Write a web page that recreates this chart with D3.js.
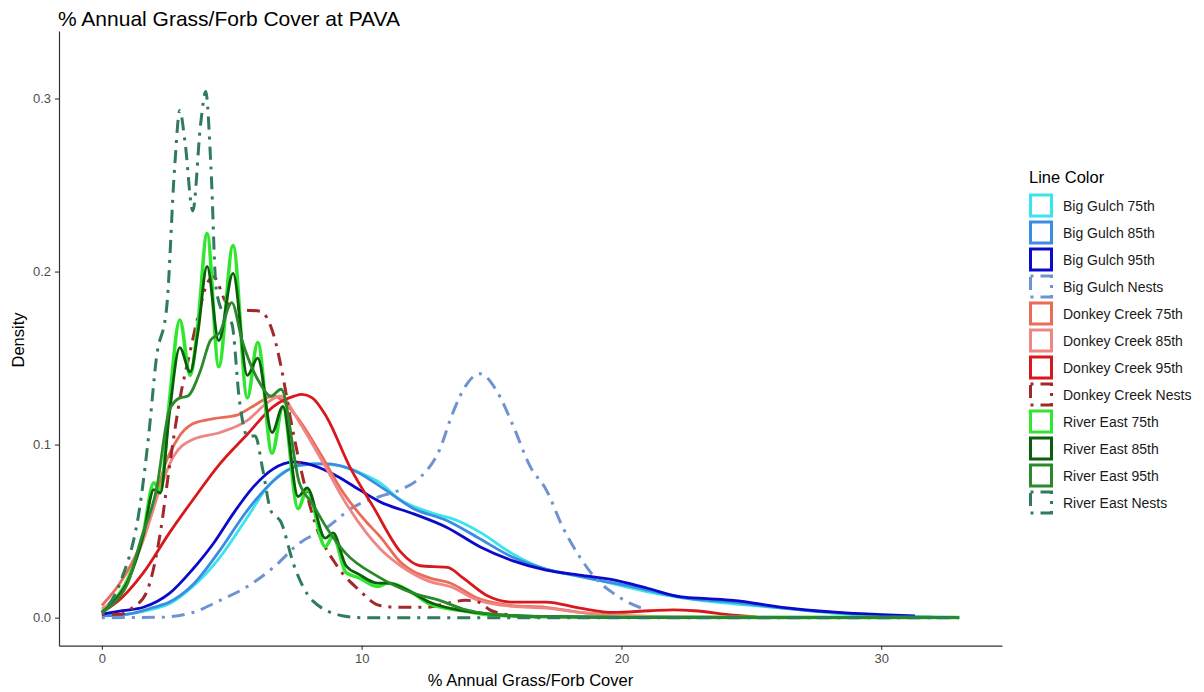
<!DOCTYPE html>
<html>
<head>
<meta charset="utf-8">
<script src="https://cdn.jsdelivr.net/npm/d3@7"></script>
<style>
  body { margin: 0; background: #fff; }
  svg { font-family: "Liberation Sans", Arial, sans-serif; }
</style>
</head>
<body>
<svg width="1204" height="692"></svg>
<script>
// series names, in legend / drawing order
const seriesNames = ["Big Gulch 75th", "Big Gulch 85th", "Big Gulch 95th", "Big Gulch Nests",
  "Donkey Creek 75th", "Donkey Creek 85th", "Donkey Creek 95th", "Donkey Creek Nests",
  "River East 75th", "River East 85th", "River East 95th", "River East Nests"];
const seriesColors = ["#38e4ee", "#3a8de0", "#0a0ac8", "#6e93d0",
  "#ea6c58", "#f08585", "#d8181c", "#a3282c",
  "#30e630", "#0b5e0b", "#2a8a2a", "#2f7b5c"];
const dashed = [false, false, false, true, false, false, false, true, false, false, false, true];

// density curves: [x, density]
const bigGulch75 = [[0,0.001],[1,0.002],[2,0.005],[2.6,0.008],[3.5,0.018],[4.5,0.034],[5.6,0.058],[6.35,0.075],[7.1,0.085],[8.1,0.089],[9.1,0.088],[10.2,0.082],[10.7,0.078],[11.5,0.068],[12.6,0.061],[13.7,0.056],[14.6,0.049],[15.8,0.037],[17.1,0.028],[18,0.025],[19,0.022],[20.4,0.017],[21.5,0.0135],[22.4,0.0114],[23.3,0.0095],[24.3,0.008],[26.2,0.0055],[28.1,0.0027],[30,0.001],[31.5,0.0004],[33,0.0001]];
const bigGulch85 = [[0,0.001],[1,0.002],[2,0.006],[2.6,0.009],[3.5,0.019],[4.5,0.038],[5.6,0.062],[6.6,0.079],[7.6,0.088],[8.6,0.089],[9.7,0.085],[10.7,0.076],[12,0.063],[13.3,0.056],[14.5,0.046],[15.8,0.035],[17.1,0.028],[18,0.025],[19,0.022],[20.4,0.018],[22.4,0.0115],[24.3,0.009],[26.2,0.0055],[28.1,0.003],[30,0.0012],[32,0.0003]];
const bigGulch95 = [[0,0.002],[0.8,0.004],[1.6,0.006],[2.6,0.014],[3.5,0.028],[4.3,0.043],[5.05,0.06],[5.8,0.075],[6.6,0.086],[7.4,0.09],[7.9,0.089],[8.9,0.083],[9.9,0.074],[10.7,0.067],[12,0.06],[13.3,0.052],[14.55,0.041],[15.8,0.033],[17.1,0.0275],[18.4,0.0246],[19.7,0.0218],[21,0.017],[22.3,0.012],[23.3,0.011],[24.3,0.01],[26.2,0.006],[28.1,0.0033],[30,0.0017],[31.3,0.001]];
const bigGulchNests = [[0,0],[2.2,0.0002],[3.5,0.003],[4.55,0.01],[5.6,0.018],[6.6,0.029],[7.6,0.043],[8.65,0.052],[9.7,0.064],[10.7,0.07],[11.5,0.074],[12.25,0.081],[13,0.097],[13.5,0.118],[14.05,0.135],[14.55,0.141],[15.2,0.131],[15.8,0.112],[16.5,0.087],[17.1,0.074],[17.75,0.052],[18.4,0.035],[19.05,0.022],[19.7,0.014],[20.3,0.0085],[21,0.0045]];
const donkey75 = [[0,0.007],[0.7,0.02],[1.4,0.039],[2,0.064],[2.4,0.087],[2.9,0.103],[3.5,0.112],[4.3,0.115],[5.2,0.117],[5.8,0.122],[6.6,0.128],[7.4,0.118],[8.4,0.095],[9.3,0.072],[10.2,0.055],[10.7,0.047],[11.5,0.032],[12.6,0.023],[13.4,0.02],[14.5,0.011],[15.8,0.007],[17.1,0.006],[18.4,0.003],[20,0.0012],[22,0.0005],[24.5,0.0002]];
const donkey85 = [[0,0.005],[0.8,0.017],[1.6,0.045],[2.25,0.075],[2.75,0.093],[3.5,0.103],[4.55,0.107],[5.6,0.114],[6.35,0.124],[6.86,0.128],[7.6,0.113],[8.5,0.09],[9.4,0.066],[10.7,0.04],[11.5,0.03],[12.6,0.021],[13.4,0.018],[14.5,0.01],[15.8,0.0065],[17.1,0.0055],[18.4,0.003],[20,0.0012],[22,0.0005],[24.5,0.0002]];
const donkey95 = [[0,0.003],[0.8,0.012],[1.6,0.026],[2.6,0.049],[3.5,0.068],[4.55,0.089],[5.6,0.106],[6.6,0.122],[7.4,0.128],[7.7,0.129],[8.1,0.127],[8.65,0.116],[9.55,0.087],[10.45,0.064],[11.5,0.038],[12.25,0.03],[13.3,0.029],[13.9,0.023],[14.8,0.013],[15.8,0.009],[17.1,0.009],[18.4,0.0055],[19.7,0.003],[21.1,0.004],[22,0.0045],[22.8,0.004],[24.3,0.0015],[25.2,0.0005]];
const donkeyNests = [[0,0.002],[0.7,0.002],[1.2,0.006],[1.7,0.014],[2.25,0.049],[2.6,0.087],[3,0.126],[3.4,0.154],[3.7,0.174],[4.05,0.193],[4.3,0.197],[4.8,0.182],[5.45,0.178],[6.1,0.177],[6.6,0.164],[6.9,0.145],[7.25,0.116],[7.6,0.09],[8.2,0.055],[9.05,0.03],[9.9,0.016],[10.7,0.007],[11.5,0.006],[12.5,0.006],[13.2,0.008],[14,0.01],[14.5,0.009],[15,0.004],[16,0.001],[17,0.0002]];
const riverEast75 = [[0,0.003],[0.5,0.01],[1,0.022],[1.6,0.049],[2,0.078],[2.25,0.073],[2.6,0.125],[3,0.172],[3.4,0.14],[3.7,0.17],[4.05,0.222],[4.5,0.145],[5.05,0.215],[5.6,0.127],[6,0.159],[6.55,0.095],[6.97,0.122],[7.55,0.063],[7.9,0.074],[8.6,0.041],[8.9,0.047],[9.4,0.026],[9.9,0.023],[10.6,0.018],[11,0.02],[12,0.014],[12.6,0.008],[13.9,0.004],[15,0.0015],[17,0.0005],[20,0.0002],[33,0.0001]];
const riverEast85 = [[0,0.003],[0.5,0.01],[1,0.021],[1.6,0.048],[2,0.074],[2.25,0.072],[2.6,0.118],[3,0.156],[3.4,0.142],[3.7,0.165],[4.05,0.203],[4.5,0.16],[5.05,0.199],[5.6,0.14],[6,0.15],[6.55,0.107],[6.97,0.122],[7.55,0.07],[7.9,0.075],[8.6,0.046],[8.9,0.049],[9.4,0.03],[9.9,0.025],[10.6,0.02],[11,0.02],[12,0.014],[12.6,0.009],[13.9,0.004],[15,0.002],[17,0.0006],[20,0.0002],[33,0.0001]];
const riverEast95 = [[0,0.003],[0.5,0.009],[1,0.02],[1.5,0.045],[2.1,0.074],[2.6,0.12],[3,0.127],[3.3,0.128],[3.8,0.143],[4.17,0.16],[4.55,0.165],[5,0.182],[5.4,0.16],[6.1,0.135],[6.5,0.128],[6.9,0.132],[7.6,0.078],[8.1,0.066],[8.65,0.052],[9.4,0.037],[10.6,0.024],[12,0.014],[13,0.01],[13.9,0.005],[15,0.002],[17,0.0006],[20,0.0002],[33,0.0001]];
const riverEastNests = [[0,0.003],[0.7,0.02],[1.5,0.068],[1.8,0.105],[2.1,0.15],[2.5,0.18],[2.8,0.26],[3,0.293],[3.2,0.275],[3.5,0.235],[3.8,0.285],[4,0.304],[4.2,0.26],[4.4,0.19],[4.7,0.175],[5,0.17],[5.3,0.125],[5.6,0.105],[5.9,0.105],[6.2,0.085],[6.5,0.062],[6.9,0.055],[7.4,0.03],[8.1,0.01],[9.3,0.001],[10,0],[33,0]];

const seriesData = [bigGulch75, bigGulch85, bigGulch95, bigGulchNests,
  donkey75, donkey85, donkey95, donkeyNests,
  riverEast75, riverEast85, riverEast95, riverEastNests];

const xTicks = [0, 10, 20, 30];
const yTicks = [0, 0.1, 0.2, 0.3];

const svg = d3.select("svg");

// panel spans 59..1002 horizontally, 31..645.7 vertically (ggplot-style 5% expansion)
const x = d3.scaleLinear().domain([-1.65, 34.65]).range([59, 1002]);
const y = d3.scaleLinear().domain([-0.0162, 0.339]).range([645.7, 31]);

const line = d3.line()
  .x(d => x(d[0]))
  .y(d => y(d[1]))
  .curve(d3.curveMonotoneX);

const dash = "3,7,13,7";

svg.append("g")
  .selectAll("path")
  .data(seriesData)
  .join("path")
  .attr("d", line)
  .attr("fill", "none")
  .attr("stroke", (d, i) => seriesColors[i])
  .attr("stroke-width", (d, i) => i === 8 ? 3.6 : (dashed[i] ? 3 : 2.8))
  .attr("stroke-dasharray", (d, i) => dashed[i] ? dash : null)
  .attr("stroke-linejoin", "round");

// axes
const xAxis = svg.append("g")
  .attr("transform", "translate(0,645.7)")
  .call(d3.axisBottom(x).tickValues(xTicks).tickSize(4).tickSizeOuter(0).tickPadding(4));
const yAxis = svg.append("g")
  .attr("transform", "translate(59,0)")
  .call(d3.axisLeft(y).tickValues(yTicks).tickFormat(d3.format(".1f")).tickSize(4).tickSizeOuter(0).tickPadding(4));

[xAxis, yAxis].forEach(g => {
  g.select(".domain").attr("stroke", "#333").attr("stroke-width", 1.2);
  g.selectAll(".tick line").attr("stroke", "#333").attr("stroke-width", 1.1);
  g.selectAll(".tick text").attr("fill", "#4d4d4d").style("font-size", "13px")
    .style("font-family", "Liberation Sans, Arial, sans-serif");
});

// titles
svg.append("text")
  .attr("x", 58).attr("y", 26)
  .style("font-size", "21px")
  .text("% Annual Grass/Forb Cover at PAVA");

svg.append("text")
  .attr("x", 530.5).attr("y", 686)
  .attr("text-anchor", "middle")
  .style("font-size", "16.5px")
  .text("% Annual Grass/Forb Cover");

svg.append("text")
  .attr("transform", "translate(24,340) rotate(-90)")
  .attr("text-anchor", "middle")
  .style("font-size", "16.5px")
  .text("Density");

// legend
const legend = svg.append("g").attr("transform", "translate(1029,0)");
legend.append("text")
  .attr("x", 0).attr("y", 183)
  .style("font-size", "16.5px")
  .text("Line Color");

const items = legend.selectAll("g.item")
  .data(seriesNames)
  .join("g")
  .attr("class", "item")
  .attr("transform", (d, i) => `translate(0,${205.5 + 27 * i})`);

items.append("rect")
  .attr("x", 1.5).attr("y", -10.5)
  .attr("width", 21).attr("height", 21)
  .attr("fill", "#fff")
  .attr("stroke", (d, i) => seriesColors[i])
  .attr("stroke-width", 3)
  .attr("stroke-dasharray", (d, i) => dashed[i] ? dash : null);

items.append("text")
  .attr("x", 34).attr("y", 5)
  .style("font-size", "14px")
  .attr("fill", "#1a1a1a")
  .text(d => d);
</script>
</body>
</html>
